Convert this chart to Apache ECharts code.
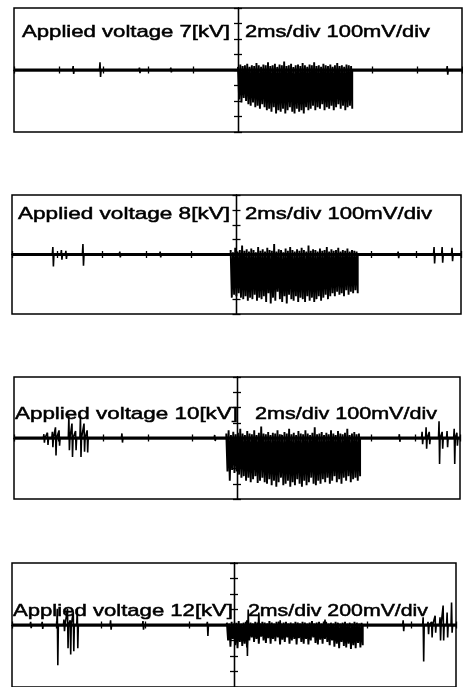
<!DOCTYPE html>
<html>
<head>
<meta charset="utf-8">
<script src="https://cdn.jsdelivr.net/npm/echarts@6/dist/echarts.min.js"></script>
<style>
html,body{margin:0;padding:0;background:#fff;}
#chart{width:463px;height:687px;}
</style>
</head>
<body>
<div id="chart"></div>
<script>
// ---- data (time in divisions, -5..5; amplitude in divisions, -4..4) ----
const voltages = ['7', '8', '10', '12'];
const scaleTexts = ['2ms/div 100mV/div', '2ms/div 100mV/div', '2ms/div 100mV/div', '2ms/div 200mV/div'];

// isolated discharge spikes: [time, peak up, peak down]
const spikes7 = [[-3.68,0.25,-0.25],[-3.08,0.5,-0.45],[-2.2,0.15,-0.2],[-1.5,0.15,-0.15],[4.67,0.25,-0.3]];
const spikes8 = [[-4.09,0.5,-0.8],[-3.9,0.3,-0.35],[-3.8,0.25,-0.3],[-3.42,0.7,-0.75],[-2.6,0.2,-0.2],[-1.7,0.2,-0.2],[3.6,0.2,-0.25],[4.4,0.5,-0.6],[4.58,0.5,-0.55],[4.8,0.45,-0.45]];
const spikes10 = [[-4.33,0.25,-0.3],[-4.25,0.35,-0.45],[-4.14,0.4,-0.6],[-4.07,0.7,-1.15],[-3.99,0.5,-0.5],[-3.77,1.45,-0.8],[-3.70,0.95,-1.25],[-3.62,0.45,-0.8],[-3.51,1.45,-1.25],[-3.43,0.95,-0.9],[-3.36,0.5,-0.95],[-2.58,0.3,-0.3],[-0.5,0.2,-0.2],[3.64,0.25,-0.25],[4.15,0.4,-0.4],[4.24,0.7,-0.7],[4.31,0.4,-0.4],[4.53,1.1,-1.7],[4.6,0.4,-0.7],[4.71,0.45,-0.6],[4.87,0.6,-1.7],[4.93,0.35,-0.5]];
const spikes12 = [[-4.58,0.2,-0.2],[-4.32,0.2,-0.25],[-3.98,1.05,-2.6],[-3.83,0.35,-0.4],[-3.75,1.05,-1.5],[-3.69,0.3,-1.9],[-3.62,0.85,-1.7],[-3.53,1.05,-1.5],[-2.78,0.3,-0.3],[-2.05,0.25,-0.3],[-0.6,0.2,-0.7],[0.29,0.3,-2.0],[0.32,1.0,-0.5],[0.56,0.8,-0.4],[1.04,0.3,-0.2],[2.05,0.35,-0.2],[3.81,0.3,-0.4],[4.26,0.5,-2.35],[4.37,0.2,-0.6],[4.45,0.2,-0.8],[4.53,0.6,-0.5],[4.64,0.5,-1.0],[4.71,1.25,-1.0],[4.8,0.8,-0.8],[4.9,1.45,-0.5]];

// burst span [start, end] in divisions
const burstSpan7 = [0.0, 2.55];
const burstSpan8 = [-0.13, 2.7];
const burstSpan10 = [-0.24, 2.76];
const burstSpan12 = [-0.16, 2.9];

// burst oscillation peaks (upper / lower)
const burst7Hi = [0.2,0.35,0.25,0.3,0.4,0.2,0.3,0.25,0.45,0.3, 0.2,0.35,0.3,0.5,0.25,0.3,0.4,0.2,0.35,0.3, 0.55,0.25,0.3,0.4,0.2,0.3,0.35,0.25,0.45,0.3, 0.2,0.35,0.3,0.5,0.25,0.3,0.2,0.4,0.3,0.25, 0.35,0.2,0.3,0.45,0.25,0.3,0.2,0.35,0.3,0.25];
const burst7Lo = [-1.9,-2.1,-1.8,-2.0,-2.2,-2.3,-2.1,-2.4,-2.3,-2.5, -2.2,-2.4,-2.6,-2.5,-2.7,-2.4,-2.8,-2.6,-2.7,-2.5, -2.8,-2.6,-2.4,-2.7,-2.8,-2.5,-2.7,-2.6,-2.8,-2.4, -2.6,-2.5,-2.3,-2.6,-2.4,-2.5,-2.2,-2.6,-2.4,-2.5, -2.3,-2.6,-2.4,-2.2,-2.5,-2.3,-2.6,-2.4,-2.3,-2.5];
const burst8Hi = [0.3,0.15,0.45,0.2,0.3,0.6,0.25,0.35,0.2,0.4, 0.3,0.15,0.5,0.25,0.35,0.2,0.45,0.3,0.25,0.7, 0.2,0.35,0.3,0.15,0.4,0.25,0.5,0.3,0.2,0.35, 0.25,0.45,0.3,0.2,0.6,0.25,0.35,0.3,0.2,0.4, 0.25,0.3,0.5,0.2,0.35,0.25,0.3,0.45,0.2,0.3, 0.25,0.4,0.2,0.3,0.25,0.2];
const burst8Lo = [-2.9,-2.7,-2.8,-2.6,-2.9,-3.0,-2.8,-3.1,-2.9,-3.0, -2.7,-3.1,-2.9,-3.0,-2.8,-3.2,-2.6,-3.3,-2.9,-3.1, -2.5,-3.0,-3.2,-2.8,-3.3,-2.7,-3.0,-3.1,-2.8,-3.2, -2.9,-3.0,-3.2,-2.8,-3.1,-2.9,-3.2,-3.0,-2.8,-3.1, -2.9,-2.7,-3.0,-2.8,-2.6,-2.8,-2.5,-2.7,-2.6,-2.8, -2.4,-2.7,-2.5,-2.6,-2.4,-2.6];
const burst10Hi = [0.3,0.5,0.2,0.4,0.25,0.35,0.6,0.3,0.2,0.45, 0.3,0.25,0.5,0.2,0.35,0.75,0.3,0.25,0.4,0.2, 0.35,0.3,0.5,0.25,0.2,0.4,0.3,0.6,0.25,0.35, 0.2,0.45,0.3,0.25,0.5,0.3,0.2,0.35,0.7,0.25, 0.3,0.4,0.2,0.35,0.25,0.5,0.3,0.2,0.45,0.3, 0.25,0.35,0.6,0.2,0.3,0.4,0.25,0.3];
const burst10Lo = [-2.2,-2.8,-2.1,-2.3,-2.2,-2.4,-2.6,-2.5,-2.8,-2.6, -2.9,-2.7,-2.5,-2.95,-2.8,-2.6,-2.9,-3.0,-2.7,-3.1, -2.8,-3.2,-2.9,-2.6,-3.1,-3.0,-2.8,-3.2,-2.9,-3.1, -2.7,-3.0,-3.2,-2.8,-3.1,-2.9,-2.6,-3.0,-3.1,-2.8, -3.0,-2.7,-2.9,-2.6,-3.0,-2.8,-2.5,-2.9,-2.7,-3.0, -2.6,-2.8,-2.5,-2.9,-2.7,-2.6,-2.8,-2.5];
const burst12Hi = [0.15,0.1,0.2,0.1,0.15,0.25,0.1,0.15,0.2,0.1, 0.15,0.1,0.2,0.15,0.1,0.2,0.15,0.1,0.25,0.15, 0.1,0.2,0.15,0.1,0.15,0.2,0.1,0.15,0.1,0.2, 0.15,0.1,0.2,0.15,0.1,0.15,0.25,0.1,0.15,0.2, 0.1,0.15,0.2,0.1,0.15,0.1,0.2,0.15,0.1,0.15, 0.2,0.1,0.15,0.1,0.2,0.15,0.1,0.15];
const burst12Lo = [-1.0,-1.4,-0.9,-1.3,-1.5,-1.1,-1.35,-1.2,-1.45,-1.0, -0.8,-1.1,-0.9,-1.2,-0.75,-1.0,-1.15,-0.85,-1.2,-0.9, -1.05,-0.8,-1.25,-0.95,-1.1,-0.8,-1.2,-1.0,-0.9,-1.25, -0.85,-1.1,-1.2,-0.9,-1.25,-1.0,-0.8,-1.15,-1.25,-0.95, -1.2,-0.9,-1.1,-1.3,-1.0,-1.4,-1.2,-1.5,-1.1,-1.35, -1.45,-1.2,-1.55,-1.3,-1.5,-1.15,-1.45,-1.3];

// ---- layout (pixels) ----
const layout = [
  {left:14, right:1, top:8,   height:124, t1:[22,230,32],    t2:[245,430,32]},
  {left:12, right:2, top:195, height:119, t1:[18,230,214],   t2:[245,432,214]},
  {left:14, right:3, top:377, height:122, t1:[15,238,414.5], t2:[255,437,414.5]},
  {left:12, right:7, top:563, height:130, t1:[13,233,611],   t2:[248,428,611]}
];
const panels = [
  {spikes:spikes7,  span:burstSpan7,  hi:burst7Hi,  lo:burst7Lo},
  {spikes:spikes8,  span:burstSpan8,  hi:burst8Hi,  lo:burst8Lo},
  {spikes:spikes10, span:burstSpan10, hi:burst10Hi, lo:burst10Lo},
  {spikes:spikes12, span:burstSpan12, hi:burst12Hi, lo:burst12Lo}
];

const FONT = '17px "Liberation Sans", Arial, sans-serif';
const mctx = document.createElement('canvas').getContext('2d');
mctx.font = FONT;
function textEl(str, box) {
  const w = mctx.measureText(str).width;
  return {
    type:'text', x:box[0], y:box[2], scaleX:(box[1]-box[0])/w, z:100,
    style:{text:str, fill:'#000', stroke:'#000', lineWidth:0.5, font:FONT, textAlign:'left', textVerticalAlign:'middle'}
  };
}

function spikeData(list) {
  const s = list.slice().sort((a,b)=>a[0]-b[0]);
  const d = [[-5,0]];
  s.forEach(p => {
    d.push([p[0]-0.012,0],[p[0],p[1]],[p[0]+0.012,p[2]],[p[0]+0.024,0]);
  });
  d.push([5,0]);
  return d;
}
function burstData(span, hi, lo) {
  const n = Math.min(hi.length, lo.length);
  const step = (span[1]-span[0])/(2*n-1);
  const d = [[span[0],0]];
  for (let k=0;k<n;k++){
    d.push([span[0]+2*k*step, hi[k]]);
    d.push([span[0]+(2*k+1)*step, lo[k]]);
  }
  d.push([span[1],0]);
  return d;
}

const grids=[], xAxes=[], yAxes=[], series=[], graphics=[];
layout.forEach((L,i)=>{
  grids.push({left:L.left, right:L.right, top:L.top, height:L.height, show:true,
    borderColor:'#000', borderWidth:1.5, backgroundColor:'transparent', containLabel:false});
  [true,false].forEach(inside=>{
    xAxes.push({gridIndex:i, type:'value', min:-5, max:5, interval:1, position:'bottom',
      axisLine:{show:true, onZero:true, lineStyle:{color:'#000', width:1.3}},
      axisTick:{show:true, inside:inside, length:3.5, lineStyle:{color:'#000', width:1.3}},
      axisLabel:{show:false}, splitLine:{show:false}});
    yAxes.push({gridIndex:i, type:'value', min:-4, max:4, interval:1, position:'left',
      axisLine:{show:true, onZero:true, lineStyle:{color:'#000', width:1.3}},
      axisTick:{show:true, inside:inside, length:4, lineStyle:{color:'#000', width:1.3}},
      axisLabel:{show:false}, splitLine:{show:false}});
  });
  const P = panels[i];
  series.push({type:'line', xAxisIndex:2*i, yAxisIndex:2*i, data:[[-5,0],[5,0]],
    symbol:'none', silent:true, animation:false, lineStyle:{color:'#000', width:3}});
  series.push({type:'line', xAxisIndex:2*i, yAxisIndex:2*i, data:spikeData(P.spikes),
    symbol:'none', silent:true, animation:false, lineStyle:{color:'#000', width:1.6}});
  series.push({type:'line', xAxisIndex:2*i, yAxisIndex:2*i, data:burstData(P.span,P.hi,P.lo),
    symbol:'none', silent:true, animation:false, lineStyle:{color:'#000', width:1.9}});
  graphics.push(textEl('Applied voltage ' + voltages[i] + '[kV]', L.t1));
  graphics.push(textEl(scaleTexts[i], L.t2));
});

const chart = echarts.init(document.getElementById('chart'), null, {renderer:'canvas'});
chart.setOption({
  backgroundColor:'#fff',
  animation:false,
  grid:grids, xAxis:xAxes, yAxis:yAxes, series:series, graphic:graphics
});
</script>
</body>
</html>
